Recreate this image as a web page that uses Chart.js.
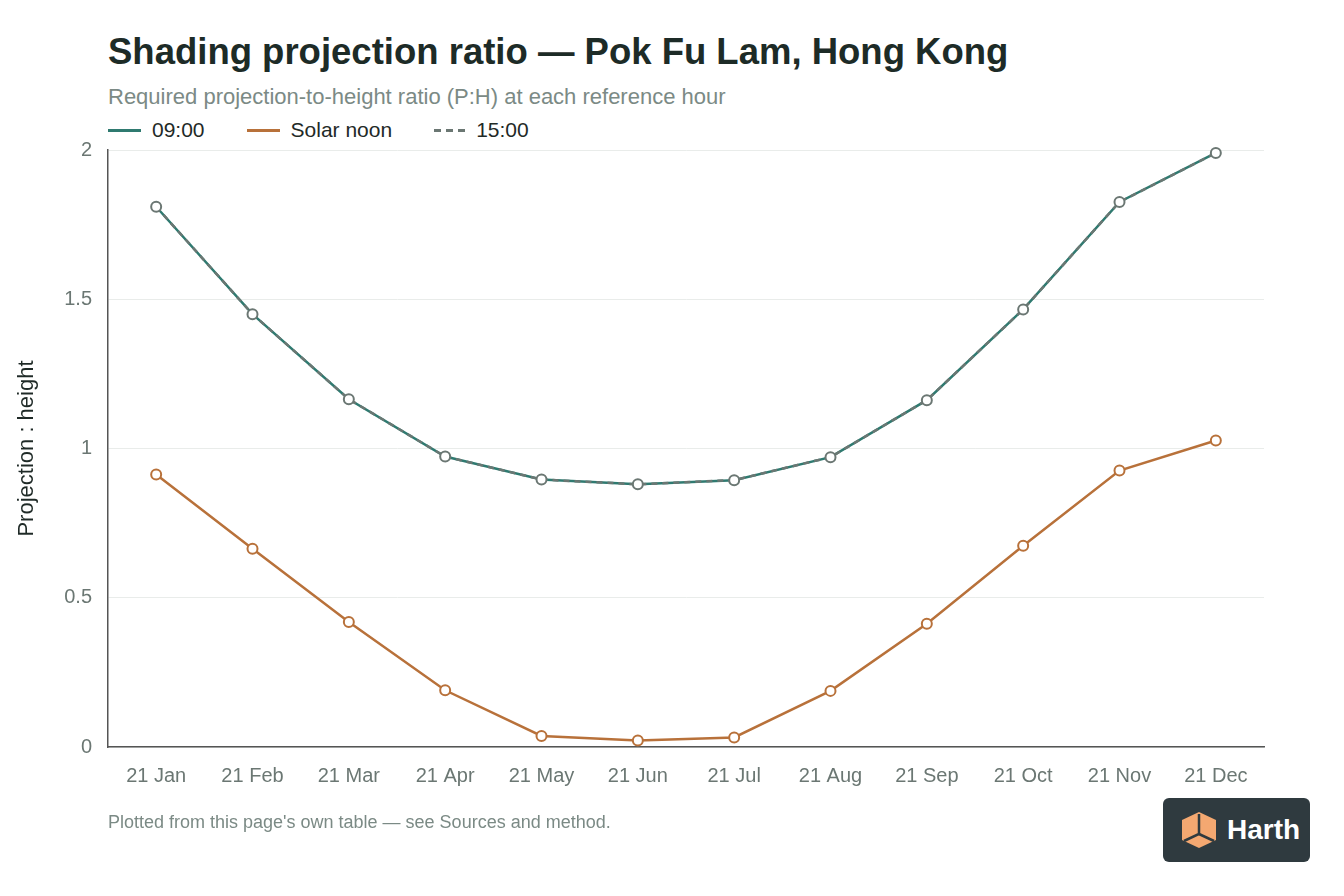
<!DOCTYPE html>
<html>
<head>
<meta charset="utf-8">
<script src="https://cdn.jsdelivr.net/npm/chart.js@4.4.1/dist/chart.umd.min.js"></script>
<style>
  html, body { margin: 0; padding: 0; background: #fff; }
  body { width: 1344px; height: 896px; position: relative; overflow: hidden; font-family: "Liberation Sans", Arial, sans-serif; }
  h1 { position: absolute; left: 108px; top: 31px; margin: 0; font-size: 36.5px; font-weight: bold; color: #1d2b27; white-space: nowrap; }
  .sub { position: absolute; left: 108px; top: 84px; font-size: 22px; color: #7b8a85; white-space: nowrap; }
  #legend { position: absolute; left: 108px; top: 118px; display: flex; font-size: 21px; color: #1f2a27; }
  #legend .item { display: flex; align-items: center; margin-right: 42px; }
  #legend .sw { width: 33px; height: 3px; margin-right: 11px; }
  #wrap { position: absolute; left: 0; top: 122px; width: 1344px; height: 701px; }
  .foot { position: absolute; left: 108px; top: 812px; font-size: 18px; color: #7b8a85; white-space: nowrap; }
  .logo { position: absolute; left: 1163px; top: 798px; width: 147px; height: 64px; background: #2f3a3f; border-radius: 6px; display: flex; align-items: center; }
  .logo span { color: #fff; font-weight: bold; font-size: 28px; margin-left: 8px; }
</style>
</head>
<body>
<h1>Shading projection ratio — Pok Fu Lam, Hong Kong</h1>
<div class="sub">Required projection-to-height ratio (P:H) at each reference hour</div>
<div id="legend"></div>
<div id="wrap"><canvas id="chart"></canvas></div>
<div class="foot">Plotted from this page's own table — see Sources and method.</div>
<div class="logo">
  <svg width="40" height="40" viewBox="0 0 40 40" style="margin-left:16px">
    <polygon points="20,2 37,10 37,30 20,38 3,30 3,10" fill="#f4a871"/>
    <polyline points="20,4 20,24 5,31" fill="none" stroke="#2f3a3f" stroke-width="2.5"/>
    <line x1="20" y1="24" x2="35" y2="31" stroke="#2f3a3f" stroke-width="2.5"/>
  </svg>
  <span>Harth</span>
</div>
<script>
const months = ['21 Jan', '21 Feb', '21 Mar', '21 Apr', '21 May', '21 Jun', '21 Jul', '21 Aug', '21 Sep', '21 Oct', '21 Nov', '21 Dec'];
const morning = [1.81, 1.45, 1.165, 0.973, 0.896, 0.880, 0.894, 0.971, 1.162, 1.466, 1.826, 1.99];
const noon = [0.913, 0.664, 0.419, 0.19, 0.037, 0.022, 0.032, 0.188, 0.413, 0.674, 0.926, 1.027];
const afternoon = [1.81, 1.45, 1.165, 0.973, 0.896, 0.880, 0.894, 0.971, 1.162, 1.466, 1.826, 1.99];
const yTicks = [0, 0.5, 1, 1.5, 2];

const teal = '#2f7a70';
const orange = '#b8713a';
const grey = '#6b7773';

const datasets = [
    { label: '09:00', data: morning, borderColor: teal, order: 2, pointRadius: 0 },
    { label: 'Solar noon', data: noon, borderColor: orange, order: 1, pointRadius: 5 },
    { label: '15:00', data: afternoon, borderColor: grey, order: 0, borderDash: [6, 5], pointRadius: 5 }
];
datasets.forEach(ds => {
    ds.backgroundColor = '#fff';
    ds.pointBackgroundColor = '#fff';
    ds.pointBorderColor = ds.borderColor;
    ds.pointBorderWidth = 2;
    ds.borderWidth = 2.5;
    ds.tension = 0;
    ds.clip = false;
});

// legend in html
const legend = document.getElementById('legend');
datasets.forEach(ds => {
    const item = document.createElement('div');
    item.className = 'item';
    const sw = document.createElement('span');
    sw.className = 'sw';
    if (ds.borderDash) {
        sw.style.width = '31px';
        sw.style.background = 'repeating-linear-gradient(90deg, ' + ds.borderColor + ' 0 7px, transparent 7px 12px)';
    } else {
        sw.style.background = ds.borderColor;
    }
    item.appendChild(sw);
    item.appendChild(document.createTextNode(ds.label));
    legend.appendChild(item);
});

const ctx = document.getElementById('chart').getContext('2d');
new Chart(ctx, {
    type: 'line',
    data: { labels: months, datasets: datasets },
    options: {
        responsive: true,
        maintainAspectRatio: false,
        animation: false,
        layout: { padding: { left: 14, right: 80, top: 5, bottom: 18 } },
        plugins: { legend: { display: false }, tooltip: { enabled: false } },
        scales: {
            x: {
                offset: true,
                grid: { display: false, drawTicks: false },
                border: { color: '#555', width: 1.5 },
                ticks: { color: '#6b7773', font: { size: 20, family: 'Liberation Sans' }, padding: 17, maxRotation: 0 }
            },
            y: {
                min: 0,
                max: 2,
                afterFit: scale => { scale.width = 94; },
                afterBuildTicks: scale => { scale.ticks = yTicks.map(v => ({ value: v })); },
                grid: { color: '#e9ecea', drawTicks: false },
                border: { color: '#555', width: 1.5 },
                ticks: { color: '#6b7773', font: { size: 20, family: 'Liberation Sans' }, padding: 16, callback: v => String(v) },
                title: { display: true, text: 'Projection : height', color: '#1f2a27', font: { size: 22, family: 'Liberation Sans' }, padding: 0 }
            }
        }
    }
});
</script>
</body>
</html>
